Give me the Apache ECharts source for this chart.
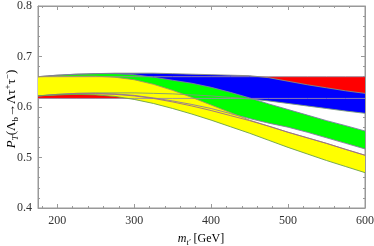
<!DOCTYPE html>
<html><head><meta charset="utf-8">
<script src="https://cdn.jsdelivr.net/npm/echarts@6/dist/echarts.min.js"></script>
<style>html,body{margin:0;padding:0;background:#fff}#c{width:374px;height:246px}</style>
</head><body><div id="c"></div>
<script>
const xs        = [175,200,225,250,275,300,325,350,375,400,425,450,475,500,525,550,575,600];
const redLow    = [0.617,0.617,0.617,0.617,0.617,0.617,0.617,0.617,0.617,0.617,0.617,0.617,0.617,0.617,0.617,0.617,0.617,0.617];
const redHigh   = [0.660,0.660,0.660,0.660,0.660,0.660,0.660,0.660,0.660,0.660,0.660,0.660,0.660,0.660,0.660,0.660,0.660,0.660];
const blueHigh  = [0.660,0.663,0.665,0.666,0.667,0.667,0.667,0.666,0.665,0.664,0.663,0.662,0.658,0.651,0.644,0.638,0.632,0.627];
const blueLow   = [0.622,0.625,0.627,0.628,0.628,0.628,0.627,0.626,0.624,0.622,0.619,0.616,0.612,0.607,0.602,0.597,0.592,0.5875];
const greenHigh = [0.660,0.663,0.665,0.666,0.666,0.664,0.659,0.653,0.647,0.639,0.629,0.618,0.606,0.595,0.584,0.573,0.563,0.5525];
const greenLow  = [0.622,0.625,0.627,0.627,0.626,0.623,0.618,0.612,0.605,0.597,0.587,0.577,0.568,0.560,0.550,0.539,0.528,0.517];
const yellowHigh= [0.660,0.661,0.661,0.661,0.659,0.654,0.645,0.633,0.619,0.604,0.589,0.574,0.562,0.550,0.539,0.528,0.516,0.5045];
const midLine   = [0.622,0.624,0.626,0.626,0.625,0.622,0.617,0.610,0.602,0.593,0.583,0.573,0.562,0.550,0.539,0.528,0.516,0.5045];
const yellowLow = [0.622,0.624,0.625,0.624,0.621,0.615,0.607,0.597,0.586,0.574,0.561,0.548,0.534,0.520,0.507,0.494,0.482,0.470];
const xMajorTicks = [200,300,400,500,600];
const xMinorTicks = [180,220,240,260,280,320,340,360,380,420,440,460,480,520,540,560,580];

const pairs = (ys) => xs.map((x,i)=>[x, ys[i]]);

function band(lo, hi, color, z){
  return {
    type:'custom', silent:true, z:z, clip:true,
    data:[[xs[0], lo[0]]],
    renderItem:function(params, api){
      const pts = [];
      for (let i=0;i<xs.length;i++) pts.push(api.coord([xs[i], hi[i]]));
      for (let i=xs.length-1;i>=0;i--) pts.push(api.coord([xs[i], lo[i]]));
      return {type:'polygon', shape:{points:pts}, style:{fill:color, stroke:null}};
    }
  };
}
function edge(ys, color){
  return {type:'line', data:pairs(ys), symbol:'none', lineStyle:{width:0.9,color:color}, silent:true, z:5};
}

const serif = '"Liberation Serif","DejaVu Serif",serif';
const axisGray = '#999';
const txt = '#333';
function richStyle(fs, ss){
  return {
    i:{fontStyle:'italic', fontFamily:serif, fontSize:fs, color:txt, lineHeight:fs+4},
    n:{fontFamily:serif, fontSize:fs, color:txt, lineHeight:fs+4},
    s:{fontFamily:serif, fontSize:ss, color:txt, verticalAlign:'bottom', lineHeight:fs+4},
    si:{fontStyle:'italic', fontFamily:serif, fontSize:ss, color:txt, verticalAlign:'bottom', lineHeight:fs+4},
    p:{fontFamily:serif, fontSize:ss, color:txt, verticalAlign:'top', lineHeight:fs+4}
  };
}

const baseX = {type:'value', min:175, max:600, splitLine:{show:false}};
const baseY = {type:'value', min:0.4, max:0.8, interval:0.1, splitLine:{show:false}};

const chart = echarts.init(document.getElementById('c'), null, {renderer:'canvas'});
chart.setOption({
  animation:false,
  backgroundColor:'#fff',
  grid:{left:38, right:9, top:6, bottom:38, containLabel:false, outerBoundsMode:'none', show:true, borderColor:axisGray, borderWidth:1},
  graphic:[
    {type:'text', x:201, y:239, silent:true,
      style:{text:'{i|m}{si|t′}{n| [GeV]}', rich:richStyle(12,8), align:'center', verticalAlign:'middle'}},
    {type:'text', x:12, y:109, rotation:Math.PI/2, silent:true,
      style:{text:'{i|P}{si|T}{n|(Λ}{s|b}{n|→Λτ}{p|+}{n|τ}{p|−}{n|)}', rich:richStyle(13,9), align:'center', verticalAlign:'middle'}}
  ],
  xAxis:[
    Object.assign({}, baseX, {position:'bottom',
      axisLine:{show:true, lineStyle:{color:axisGray}},
      axisTick:{show:true, inside:true, length:4, customValues:xMajorTicks, lineStyle:{color:axisGray}},
      axisLabel:{show:true, customValues:xMajorTicks, margin:7, color:txt, fontFamily:serif, fontSize:12}}),
    Object.assign({}, baseX, {position:'bottom',
      axisLine:{show:false}, axisLabel:{show:false},
      axisTick:{show:true, inside:true, length:2, customValues:xMinorTicks, lineStyle:{color:axisGray}}}),
    Object.assign({}, baseX, {position:'top',
      axisLine:{show:true, lineStyle:{color:axisGray}}, axisLabel:{show:false},
      axisTick:{show:true, inside:true, length:4, customValues:xMajorTicks, lineStyle:{color:axisGray}}}),
    Object.assign({}, baseX, {position:'top',
      axisLine:{show:false}, axisLabel:{show:false},
      axisTick:{show:true, inside:true, length:2, customValues:xMinorTicks, lineStyle:{color:axisGray}}})
  ],
  yAxis:[
    Object.assign({}, baseY, {position:'left',
      axisLine:{show:true, lineStyle:{color:axisGray}},
      axisTick:{show:true, inside:true, length:4, lineStyle:{color:axisGray}},
      minorTick:{show:true, splitNumber:5, length:2, lineStyle:{color:axisGray}},
      axisLabel:{show:true, margin:6, color:txt, fontFamily:serif, fontSize:12, formatter:(v)=>v.toFixed(1)}}),
    Object.assign({}, baseY, {position:'right',
      axisLine:{show:true, lineStyle:{color:axisGray}}, axisLabel:{show:false},
      axisTick:{show:true, inside:true, length:4, lineStyle:{color:axisGray}},
      minorTick:{show:true, splitNumber:5, length:2, lineStyle:{color:axisGray}}})
  ],
  series:[
    band(redLow, redHigh, '#ff0000', 2),
    band(blueLow, blueHigh, '#0000ff', 2),
    band(greenLow, greenHigh, '#00ff00', 2),
    band(yellowLow, yellowHigh, '#ffff00', 2),
    edge(redHigh, '#9a8a9a'),
    edge(redLow, '#9a8aa8'),
    edge(blueHigh, '#8a8a7a'),
    edge(blueLow, '#7a9a7a'),
    edge(greenHigh, '#7a7aa0'),
    edge(greenLow, '#8a7aa0'),
    edge(yellowHigh, '#a0906a'),
    edge(midLine, '#9a6a8a'),
    edge(yellowLow, '#6aa04a')
  ]
});
</script></body></html>
